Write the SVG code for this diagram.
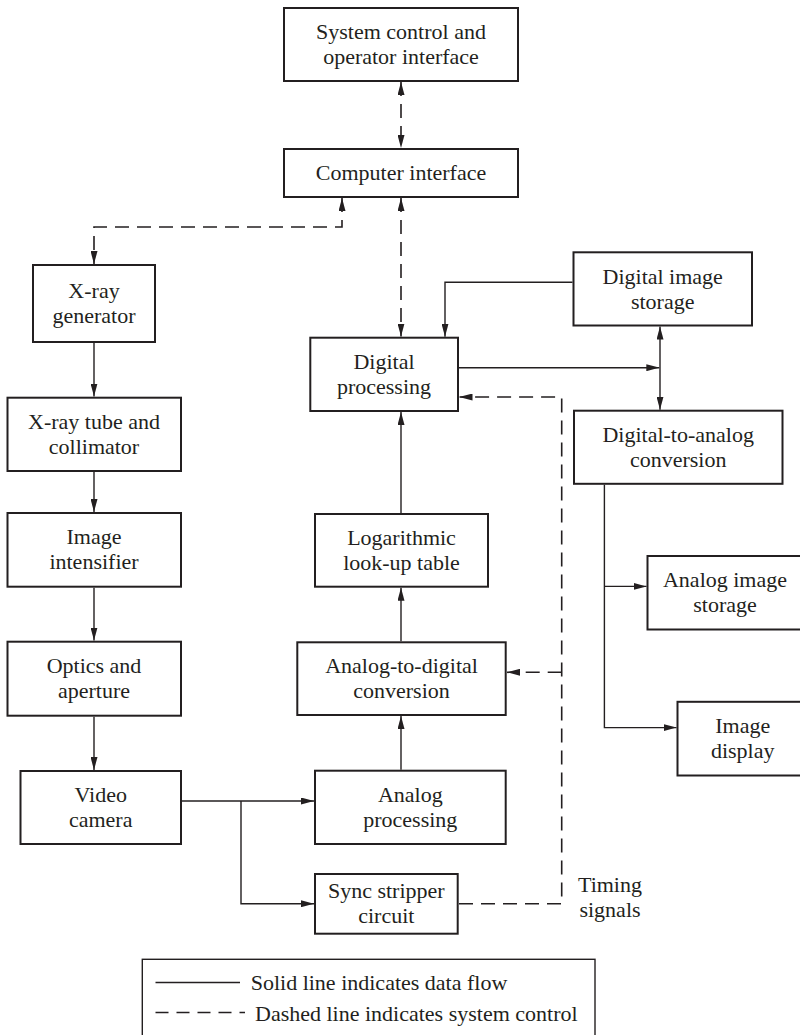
<svg xmlns="http://www.w3.org/2000/svg" width="800" height="1035" viewBox="0 0 800 1035">
  <defs>
    <style>
      .box { fill: #ffffff; stroke: #231f20; stroke-width: 2; }
      .lbl { font-family: "Liberation Serif", "Times New Roman", serif; font-size: 22px; fill: #231f20; text-anchor: middle; }
      .leg { font-family: "Liberation Serif", "Times New Roman", serif; font-size: 22px; fill: #231f20; }
      .flow { fill: none; stroke: #231f20; stroke-width: 1.4; }
      .ctrl { fill: none; stroke: #231f20; stroke-width: 1.6; stroke-dasharray: 14 8; }
    </style>
    <marker id="arrow" markerUnits="userSpaceOnUse" markerWidth="13" markerHeight="7" refX="13" refY="3.5" orient="auto-start-reverse">
      <path d="M0,0 L13,3.5 L0,7 z" fill="#231f20"/>
    </marker>
  </defs>

  <rect width="800" height="1035" fill="#ffffff"/>

  <!-- connectors -->
  <g id="connectors">
    <!-- control paths (dashed) -->
    <line class="ctrl" x1="401" y1="82" x2="401" y2="148" marker-start="url(#arrow)" marker-end="url(#arrow)"/>
    <path class="ctrl" d="M342,198 V227 H94 V264" marker-start="url(#arrow)" marker-end="url(#arrow)"/>
    <line class="ctrl" x1="401" y1="198" x2="401" y2="336.5" marker-start="url(#arrow)" marker-end="url(#arrow)"/>
    <path class="ctrl" d="M459,903.7 H561.7 V397 H459.5" marker-end="url(#arrow)"/>
    <line class="ctrl" x1="561.7" y1="672.3" x2="507" y2="672.3" marker-end="url(#arrow)"/>

    <!-- data paths (solid) -->
    <line class="flow" x1="94" y1="343" x2="94" y2="396.5" marker-end="url(#arrow)"/>
    <line class="flow" x1="94" y1="472" x2="94" y2="512" marker-end="url(#arrow)"/>
    <line class="flow" x1="94" y1="587.7" x2="94" y2="640.5" marker-end="url(#arrow)"/>
    <line class="flow" x1="94" y1="716.7" x2="94" y2="770" marker-end="url(#arrow)"/>
    <line class="flow" x1="182" y1="801" x2="314" y2="801" marker-end="url(#arrow)"/>
    <path class="flow" d="M241,801 V903.7 H314" marker-end="url(#arrow)"/>
    <line class="flow" x1="401" y1="769.7" x2="401" y2="716" marker-end="url(#arrow)"/>
    <line class="flow" x1="401" y1="641.3" x2="401" y2="587.7" marker-end="url(#arrow)"/>
    <line class="flow" x1="401" y1="513" x2="401" y2="412" marker-end="url(#arrow)"/>
    <path class="flow" d="M572.5,282.3 H445 V336.7" marker-end="url(#arrow)"/>
    <line class="flow" x1="459" y1="367.7" x2="659.3" y2="367.7" marker-end="url(#arrow)"/>
    <line class="flow" x1="660" y1="326.5" x2="660" y2="409.7" marker-start="url(#arrow)" marker-end="url(#arrow)"/>
    <path class="flow" d="M604.4,484.8 V727.6 H676.5" marker-end="url(#arrow)"/>
    <line class="flow" x1="604.4" y1="586.4" x2="646.5" y2="586.4" marker-end="url(#arrow)"/>
  </g>

  <!-- nodes -->
  <g id="system-control">
    <rect class="box" x="284" y="8" width="234" height="73"/>
    <text class="lbl" x="401" y="39">System control and</text>
    <text class="lbl" x="401" y="64">operator interface</text>
  </g>
  <g id="computer-interface">
    <rect class="box" x="284" y="149" width="234" height="48"/>
    <text class="lbl" x="401" y="180">Computer interface</text>
  </g>
  <g id="xray-generator">
    <rect class="box" x="33" y="265" width="122" height="77"/>
    <text class="lbl" x="94" y="298">X-ray</text>
    <text class="lbl" x="94" y="323">generator</text>
  </g>
  <g id="xray-tube">
    <rect class="box" x="7.5" y="397.7" width="173.5" height="73.3"/>
    <text class="lbl" x="94" y="428.8">X-ray tube and</text>
    <text class="lbl" x="94" y="453.8">collimator</text>
  </g>
  <g id="image-intensifier">
    <rect class="box" x="7.5" y="513" width="173.5" height="73.7"/>
    <text class="lbl" x="94" y="544.4">Image</text>
    <text class="lbl" x="94" y="569.4">intensifier</text>
  </g>
  <g id="optics">
    <rect class="box" x="7.5" y="641.7" width="173.5" height="74"/>
    <text class="lbl" x="94" y="673.2">Optics and</text>
    <text class="lbl" x="94" y="698.2">aperture</text>
  </g>
  <g id="video-camera">
    <rect class="box" x="20.5" y="771" width="160.5" height="73"/>
    <text class="lbl" x="100.7" y="802">Video</text>
    <text class="lbl" x="100.7" y="827">camera</text>
  </g>
  <g id="digital-processing">
    <rect class="box" x="310.3" y="337.7" width="147.7" height="73.3"/>
    <text class="lbl" x="384" y="368.8">Digital</text>
    <text class="lbl" x="384" y="393.8">processing</text>
  </g>
  <g id="digital-image-storage">
    <rect class="box" x="573.5" y="252.3" width="178.5" height="73.2"/>
    <text class="lbl" x="662.7" y="283.5">Digital image</text>
    <text class="lbl" x="662.7" y="308.5">storage</text>
  </g>
  <g id="dac">
    <rect class="box" x="574" y="410.7" width="208.5" height="73.1"/>
    <text class="lbl" x="678.2" y="441.7">Digital-to-analog</text>
    <text class="lbl" x="678.2" y="466.7">conversion</text>
  </g>
  <g id="log-lut">
    <rect class="box" x="315" y="514" width="173" height="72.7"/>
    <text class="lbl" x="401.5" y="544.8">Logarithmic</text>
    <text class="lbl" x="401.5" y="569.8">look-up table</text>
  </g>
  <g id="adc">
    <rect class="box" x="297.3" y="642.3" width="208.4" height="72.7"/>
    <text class="lbl" x="401.5" y="673.2">Analog-to-digital</text>
    <text class="lbl" x="401.5" y="698.2">conversion</text>
  </g>
  <g id="analog-processing">
    <rect class="box" x="315" y="770.7" width="190.7" height="73.3"/>
    <text class="lbl" x="410.3" y="801.8">Analog</text>
    <text class="lbl" x="410.3" y="826.8">processing</text>
  </g>
  <g id="sync-stripper">
    <rect class="box" x="315" y="874" width="142.7" height="59.7"/>
    <text class="lbl" x="386.3" y="898.3">Sync stripper</text>
    <text class="lbl" x="386.3" y="923.3">circuit</text>
  </g>
  <g id="analog-image-storage">
    <rect class="box" x="647.5" y="556" width="156" height="73.5"/>
    <text class="lbl" x="725" y="587.2">Analog image</text>
    <text class="lbl" x="725" y="612.2">storage</text>
  </g>
  <g id="image-display">
    <rect class="box" x="677.5" y="701.8" width="131" height="73.7"/>
    <text class="lbl" x="742.7" y="733.1">Image</text>
    <text class="lbl" x="742.7" y="758.1">display</text>
  </g>
  <g id="timing-label">
    <text class="lbl" x="610" y="892">Timing</text>
    <text class="lbl" x="610" y="917">signals</text>
  </g>

  <!-- legend -->
  <g id="legend">
    <rect x="142.3" y="959.3" width="452.7" height="90" fill="none" stroke="#231f20" stroke-width="1.4"/>
    <line x1="155.5" y1="982.5" x2="240" y2="982.5" stroke="#231f20" stroke-width="1.6"/>
    <text class="leg" x="250.7" y="989.5">Solid line indicates data flow</text>
    <line x1="155.5" y1="1012.5" x2="245" y2="1012.5" stroke="#231f20" stroke-width="1.6" stroke-dasharray="13 8"/>
    <text class="leg" x="255" y="1020.5">Dashed line indicates system control</text>
  </g>
</svg>
